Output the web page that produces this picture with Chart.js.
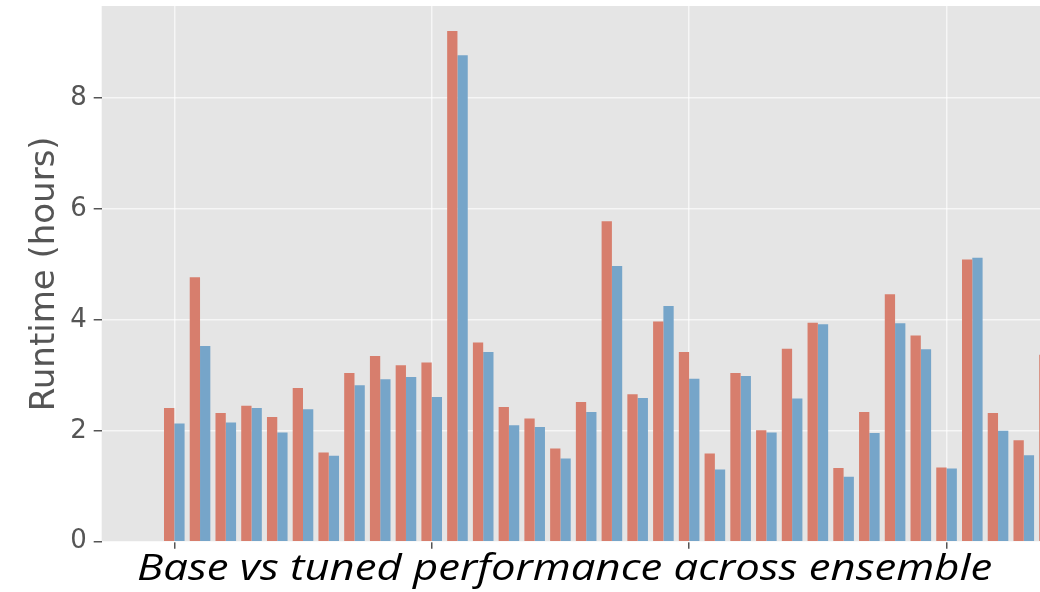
<!DOCTYPE html>
<html>
<head>
<meta charset="utf-8">
<script src="https://cdn.jsdelivr.net/npm/chart.js@4/dist/chart.umd.min.js"></script>
<style>
  body { margin: 0; background: #fff; }
  #wrap { position: relative; width: 1040px; height: 592px; overflow: hidden; }
  #caption {
    position: absolute; left: 137px; top: 542px;
    font-family: "Open Sans", Lato, sans-serif; font-style: italic;
    font-size: 37px; color: #000; white-space: nowrap; line-height: 48px;
    transform: scaleX(1.18); transform-origin: left top;
  }
</style>
</head>
<body>
<div id="wrap">
  <canvas id="runtime" width="1040" height="592"></canvas>
  <div id="caption">Base vs tuned performance across ensemble</div>
</div>
<script>
// ensemble members along the x axis
const members = [0, 1, 2, 3, 4, 5, 6, 7, 8, 9, 10, 11, 12, 13, 14, 15, 16, 17,
  18, 19, 20, 21, 22, 23, 24, 25, 26, 27, 28, 29, 30, 31, 32, 33, 34];

// runtime in hours
const baseHours = [2.41, 4.77, 2.32, 2.45, 2.25, 2.77, 1.61, 3.04, 3.35, 3.18,
  3.23, 9.21, 3.59, 2.43, 2.22, 1.68, 2.52, 5.78, 2.66, 3.97,
  3.42, 1.59, 3.04, 2.01, 3.48, 3.95, 1.33, 2.34, 4.46, 3.72,
  1.34, 5.09, 2.32, 1.83, 3.37];
const tunedHours = [2.13, 3.53, 2.15, 2.41, 1.97, 2.39, 1.55, 2.82, 2.93, 2.97,
  2.61, 8.77, 3.42, 2.10, 2.07, 1.50, 2.34, 4.97, 2.59, 4.25,
  2.94, 1.30, 2.99, 1.97, 2.58, 3.92, 1.17, 1.96, 3.94, 3.47,
  1.32, 5.12, 2.00, 1.56, null];

const xTicks = [0, 10, 20, 30];
const yTicks = [0, 2, 4, 6, 8];

const plotBg = {
  id: 'plotBg',
  beforeDraw(chart) {
    const { ctx, chartArea: a } = chart;
    ctx.save();
    ctx.fillStyle = '#E5E5E5';
    ctx.fillRect(a.left, a.top, a.right - a.left, a.bottom - a.top);
    ctx.restore();
  }
};

const toPoints = vals => members.map((m, i) => ({ x: m, y: vals[i] }));

new Chart(document.getElementById('runtime'), {
  type: 'bar',
  data: {
    datasets: [
      {
        label: 'Base',
        data: toPoints(baseHours),
        backgroundColor: '#D77E6D',
        categoryPercentage: 0.8,
        barPercentage: 1.0
      },
      {
        label: 'Tuned',
        data: toPoints(tunedHours),
        backgroundColor: '#76A5C9',
        categoryPercentage: 0.8,
        barPercentage: 1.0
      }
    ]
  },
  options: {
    responsive: false,
    animation: false,
    layout: { padding: { top: 6, left: 0, right: 0, bottom: 0 } },
    plugins: {
      legend: { display: false },
      tooltip: { enabled: false }
    },
    scales: {
      x: {
        type: 'linear',
        min: -2.82,
        max: 33.63,
        offset: false,
        afterBuildTicks: s => { s.ticks = xTicks.map(v => ({ value: v })); },
        afterFit: s => { s.height = 50.3; s.paddingLeft = 0; s.paddingRight = 0; },
        ticks: { display: false },
        grid: {
          offset: false,
          color: 'rgba(255,255,255,0.65)',
          lineWidth: 1.5,
          tickColor: '#555',
          tickLength: 7,
          tickWidth: 1.5
        },
        border: { display: false }
      },
      y: {
        min: 0,
        max: 9.66,
        afterBuildTicks: s => { s.ticks = yTicks.map(v => ({ value: v })); },
        afterFit: s => { s.width = 101.7; s.paddingTop = 0; s.paddingBottom = 0; },
        ticks: {
          color: '#555',
          padding: 7,
          font: { family: 'DejaVu Sans', size: 26 }
        },
        grid: {
          color: 'rgba(255,255,255,0.65)',
          lineWidth: 1.5,
          tickColor: '#555',
          tickLength: 8,
          tickWidth: 1.5
        },
        border: { display: false },
        title: {
          display: true,
          text: 'Runtime (hours)',
          color: '#555',
          padding: { top: 25, bottom: 0 },
          font: { family: 'DejaVu Sans', size: 34 }
        }
      }
    }
  },
  plugins: [plotBg]
});
</script>
</body>
</html>
